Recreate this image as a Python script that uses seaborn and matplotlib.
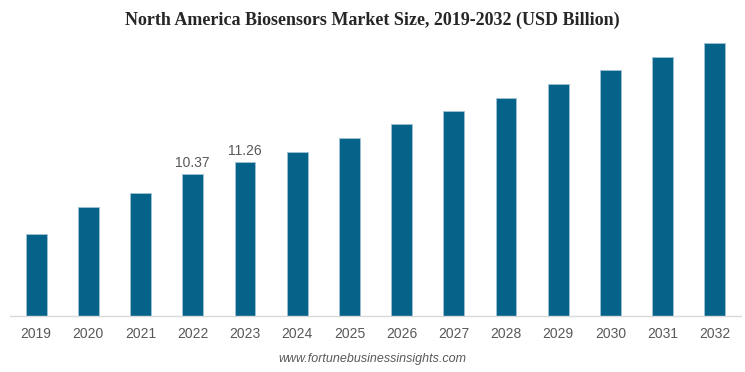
import seaborn as sns
import matplotlib.pyplot as plt
import pandas as pd

years = ["2019", "2020", "2021", "2022", "2023", "2024", "2025",
         "2026", "2027", "2028", "2029", "2030", "2031", "2032"]
market_size = [5.99, 7.99, 9.0, 10.37, 11.26, 12.0, 13.05,
               14.1, 15.0, 16.0, 17.0, 18.0, 19.0, 20.0]
labelled_years = ["2022", "2023"]

df = pd.DataFrame({"year": years, "size": market_size})

sns.set_style("white")
plt.rcParams["font.family"] = ["Liberation Sans", "DejaVu Sans"]

fig = plt.figure(figsize=(7.45, 3.72), dpi=100)
ax = fig.add_axes([10 / 745, 56 / 372, 731 / 745, 273 / 372])

sns.barplot(data=df, x="year", y="size", color="#05638a", saturation=1,
            width=0.4, edgecolor="#9fc3d4", linewidth=0.6, ax=ax)

# value labels only on the highlighted years
for i, (yr, v) in enumerate(zip(years, market_size)):
    if yr in labelled_years:
        ax.text(i, v + 0.3, f"{v:.2f}", ha="center", va="bottom",
                fontsize=10, color="#595959")

ax.set_ylim(0, 20.0)
ax.set_xlim(-0.5, len(years) - 0.5)
ax.set_xlabel("")
ax.set_ylabel("")
ax.set_yticks([])
for s in ["top", "right", "left"]:
    ax.spines[s].set_visible(False)
ax.spines["bottom"].set_color("#d9d9d9")
ax.spines["bottom"].set_linewidth(1)
ax.tick_params(axis="x", length=0, pad=8, labelsize=10, labelcolor="#595959")

fig.text(0.5, 0.945, "North America Biosensors Market Size, 2019-2032 (USD Billion)",
         ha="center", va="center", fontsize=13, fontweight="bold",
         family="Liberation Serif", color="#262626")
fig.text(0.5, 0.035, "www.fortunebusinessinsights.com", ha="center", va="center",
         fontsize=9, style="italic", color="#595959")

fig.savefig("out.png", dpi=100)
